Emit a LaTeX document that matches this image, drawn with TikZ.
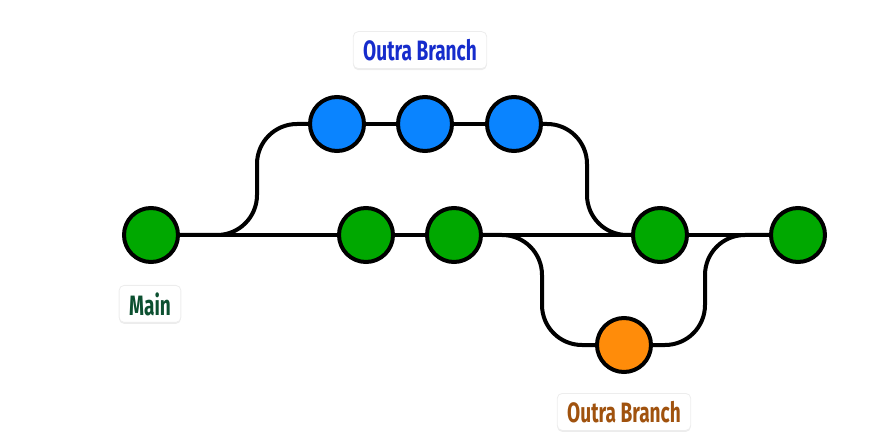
\documentclass[tikz,border=0pt]{standalone}
\usepackage{fontspec}
\usepackage{tikz}
\usetikzlibrary{positioning,backgrounds,shadows}
\newfontfamily\lblfont[FakeStretch=0.68]{Fira Sans}
\definecolor{mgreen}{RGB}{0, 168, 0}
\definecolor{bblue}{RGB}{10, 132, 255}
\definecolor{borange}{RGB}{255, 140, 10}
\definecolor{tblue}{RGB}{22, 44, 204}
\definecolor{tgreen}{RGB}{12, 80, 48}
\definecolor{torange}{RGB}{160, 82, 14}
\tikzstyle{commit} = [circle, draw=black, line width=4pt, minimum size=54pt, inner sep=0pt]
\tikzstyle{maincommit} = [commit, fill=mgreen]
\tikzstyle{bluecommit} = [commit, fill=bblue]
\tikzstyle{orangecommit} = [commit, fill=borange]
\tikzstyle{tag} = [draw=black!7, line width=0.8pt, fill=white, rounded corners=5pt, minimum height=37pt, inner xsep=10pt, font=\lblfont\bfseries\fontsize{28}{32}\selectfont, drop shadow={opacity=0.15, shadow xshift=0pt, shadow yshift=-1.5pt}]
\tikzstyle{flow} = [draw=black, line width=4pt, rounded corners=40pt]

\begin{document}
\begin{tikzpicture}[x=1pt, y=1pt]
\useasboundingbox (-151,-209) rectangle (727,235);

% main line commits =============================
\node[maincommit] (m1) {};
\node[maincommit, right=157pt of m1] (m2) {};
\node[maincommit, right=30pt of m2] (m3) {};
\node[maincommit, right=148pt of m3] (m4) {};
\node[maincommit, right=80pt of m4] (m5) {};

% other branches
\node[bluecommit, above=53pt of m2, xshift=-29pt] (b1) {};
\node[bluecommit, right=30pt of b1] (b2) {};
\node[bluecommit, right=31pt of b2] (b3) {};
\node[orangecommit, below=52pt of m4, xshift=-36pt] (o1) {};

% labels
\node[tag, text=tblue, above=26pt of b2, xshift=-5pt] (lblblue) {Outra Branch};
\node[tag, text=tgreen, below=21pt of m1, xshift=-1pt] (lblmain) {Main};
\node[tag, text=torange, below=19pt of o1] (lblorange) {Outra Branch};

% edges
\begin{scope}[on background layer]
\path[flow] (m1) -- (m2) -- (m3) -- (m4) -- (m5);
\path[flow] (m1) -| ([xshift=-80pt]b1.center) -- (b1);
\path[flow] (b1) -- (b2) -- (b3);
\path[flow] (b3) -| ([xshift=-73pt]m4.center) -- (m4);
\path[flow] (m3) -| ([xshift=-82pt]o1.center) -- (o1);
\path[flow] (o1) -| ([xshift=45pt]m4.center) -- (m5);
\end{scope}

\end{tikzpicture}
\end{document}
